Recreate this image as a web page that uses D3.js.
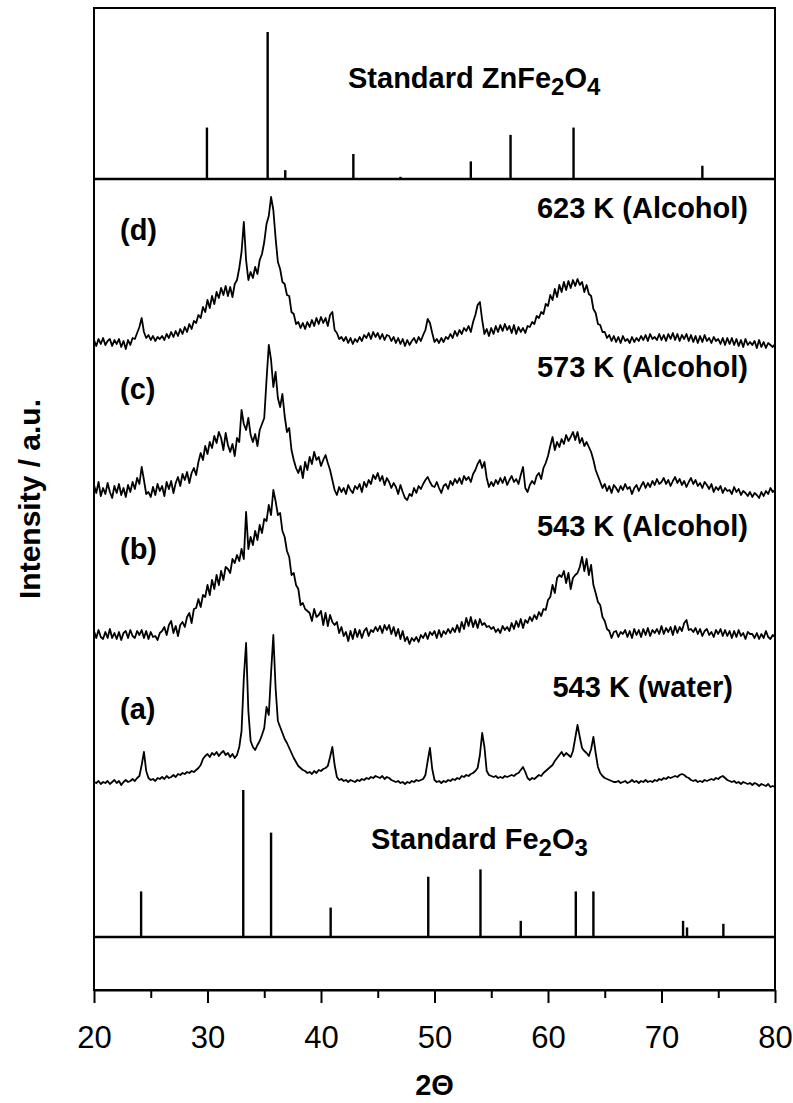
<!DOCTYPE html>
<html>
<head>
<meta charset="utf-8">
<script src="https://cdnjs.cloudflare.com/ajax/libs/d3/7.8.5/d3.min.js"></script>
<style>
    body { margin: 0; background: #fff; }
    svg text { font-family: "Liberation Sans", Arial, Helvetica, sans-serif; fill: #000; }
</style>
</head>
<body>
<svg id="chart" width="793" height="1103"></svg>
<script>
// measured XRD patterns, 2θ from 20 to 80 in steps of 0.2 (one row = 2 degrees)
var thetaStart = 20, thetaStep = 0.2;

// (a) 543 K (water)
var patternA = [
    1, 0, 2, -1, 1, 0, 2, -1, 1, 3,
    0, 2, -2, 1, 3, 1, 2, 4, 2, 5,
    7, 18, 31, 12, 5, 3, 4, 2, 5, 4,
    6, 4, 7, 5, 6, 8, 6, 9, 8, 10,
    9, 11, 10, 12, 11, 13, 15, 18, 24, 27,
    29, 26, 30, 28, 31, 27, 30, 32, 28, 30,
    26, 29, 25, 28, 36, 52, 105, 140, 72, 42,
    36, 33, 38, 42, 48, 55, 76, 68, 110, 148,
    95, 62, 56, 50, 44, 40, 35, 30, 25, 21,
    17, 15, 13, 12, 10, 11, 9, 12, 10, 13,
    12, 14, 15, 17, 26, 36, 18, 6, 3, 4,
    2, 3, 1, 3, 2, 1, 3, 2, 4, 3,
    5, 4, 6, 5, 7, 6, 5, 7, 4, 6,
    5, 3, 2, 1, 2, 0, 1, -1, 1, 0,
    2, 1, 3, 2, 3, 4, 8, 22, 35, 14,
    3, 1, 2, 0, 2, 1, 3, 2, 4, 3,
    5, 4, 7, 6, 8, 7, 9, 10, 12, 15,
    28, 50, 36, 12, 8, 7, 6, 7, 5, 6,
    5, 7, 6, 7, 8, 7, 9, 10, 13, 16,
    11, 5, 3, 5, 4, 6, 8, 7, 10, 12,
    14, 16, 18, 22, 25, 28, 31, 27, 30, 28,
    26, 32, 45, 58, 46, 35, 32, 30, 27, 34,
    46, 30, 16, 10, 7, 5, 4, 3, 2, 1,
    1, 2, 0, 1, 2, 0, 1, 3, 1, 2,
    0, 2, 1, 3, 1, 2, 1, 3, 2, 4,
    3, 5, 4, 6, 5, 6, 7, 6, 8, 9,
    8, 6, 5, 3, 2, 3, 1, 2, 1, 3,
    2, 3, 4, 3, 5, 4, 6, 7, 5, 3,
    2, 1, 2, 0, 1, -1, 1, 0, -1, 0,
    -2, 0, -1, -3, -1, -2, -3, -1, -4, -3,
    -4
];

// (b) 543 K (Alcohol)
var patternB = [
    4, -3, 5, -2, -4, 3, -3, 6, -3, 2,
    -4, 3, -5, 2, 4, -3, 5, -1, -3, 4,
    0, 5, -3, 4, -4, 3, -2, -1, -5, 2,
    4, 8, 0, 10, 14, 2, 9, -1, 10, 13,
    8, 18, 22, 12, 26, 27, 36, 28, 40, 38,
    50, 40, 55, 46, 60, 50, 64, 55, 68, 66,
    62, 76, 72, 80, 74, 86, 76, 123, 86, 98,
    90, 104, 95, 110, 102, 116, 114, 130, 120, 145,
    134, 120, 122, 104, 98, 84, 78, 60, 62, 50,
    46, 30, 32, 26, 24, 22, 14, 26, 18, 20,
    24, 10, 22, 9, 20, 13, 10, 13, 2, 8,
    -1, 3, -6, 4, -4, 6, -2, 5, -3, 4,
    7, -1, 5, 3, 8, 4, 9, 2, 10, 5,
    10, 1, 8, -1, 6, -4, 4, -6, -2, -9,
    -3, -6, -2, -7, 0, -3, 2, -4, 3, 0,
    4, -3, 5, -2, 4, 1, 6, 2, 7, 3,
    10, 3, 13, 6, 17, 9, 18, 8, 15, 7,
    16, 10, 12, 8, 9, 6, 8, 3, 6, 2,
    9, 5, 8, 4, 12, 6, 14, 8, 16, 7,
    15, 12, 18, 14, 20, 16, 23, 19, 26, 25,
    35, 38, 50, 42, 57, 60, 58, 64, 52, 62,
    46, 57, 60, 62, 68, 78, 64, 76, 60, 70,
    50, 42, 33, 30, 18, 14, 6, 4, -3, 3,
    4, -2, 3, 1, 5, -2, 4, -3, 6, 0,
    5, -2, 6, 0, 7, -1, 5, 2, 6, 1,
    9, 1, 7, 3, 8, 0, 9, 2, 8, 4,
    12, 15, 5, 6, 3, 7, 1, 6, -1, 4,
    6, 0, 3, -2, 5, 1, 6, -1, 5, -1,
    4, -3, 4, -2, 5, -1, 2, -4, 3, 1,
    1, -3, 2, -4, 1, -3, 4, -2, -4, 0,
    -2
];

// (c) 573 K (Alcohol)
var patternC = [
    5, -3, 8, -6, 2, -4, 7, -2, -8, 4,
    -3, 6, -5, 2, -7, 5, -2, 8, 1, 12,
    6, 23, 10, -4, -2, -7, 3, -5, 6, -1,
    4, -6, 8, 1, 9, -3, 7, 13, 4, 16,
    10, 18, 7, 17, 22, 15, 28, 37, 30, 44,
    36, 48, 42, 54, 47, 58, 52, 40, 57, 45,
    38, 46, 34, 52, 48, 80, 66, 60, 72, 55,
    48, 56, 44, 60, 66, 72, 110, 145, 130, 103,
    118, 92, 83, 96, 74, 58, 62, 40, 30, 22,
    17, 24, 12, 28, 20, 33, 26, 38, 30, 33,
    24, 30, 35, 27, 20, 10, 0, -5, 3, -2,
    2, -4, 5, 0, -3, 4, 1, 6, -2, 8,
    3, 10, 6, 15, 11, 17, 9, 14, 5, 12,
    8, 2, 7, 3, -4, 5, -2, -8, -10, -4,
    -6, 2, -3, 4, 1, 6, 10, 13, 8, 4,
    3, 8, 2, -3, 4, 6, 1, 9, 5, 11,
    7, 12, 6, 14, 10, 13, 8, 16, 20, 26,
    30, 22, 28, 12, 3, 8, 4, 10, 6, 12,
    7, 13, 5, 10, 14, 8, 11, 6, 15, 23,
    2, -2, 5, 9, 6, 14, 17, 11, 22, 27,
    34, 44, 53, 40, 48, 43, 51, 46, 55, 49,
    53, 58, 50, 58, 47, 52, 44, 48, 43, 38,
    30, 20, 14, 8, 2, 6, -1, 4, -3, 5,
    2, -2, 4, 0, 6, 1, 3, -4, 2, 5,
    -1, 4, 8, 2, 7, 3, 9, 5, 11, 6,
    8, 12, 6, 10, 4, 9, 13, 7, 11, 5,
    9, 3, 8, 12, 6, 10, 4, 7, 2, 8,
    5, 1, 6, -2, 3, 0, 4, -3, 2, -1,
    0, -4, 3, -2, 1, -5, -1, -3, -6, -2,
    -7, -3, -5, -8, -2, -6, -1, -4, 2, -2,
    0
];

// (d) 623 K (Alcohol)
var patternD = [
    2, -4, 3, -2, 4, -3, 1, 3, -4, 2,
    -2, 3, -5, 1, -7, 2, -3, 4, 3, 9,
    15, 24, 10, 4, 7, 2, 6, 1, 5, 3,
    6, 2, 8, 4, 10, 5, 11, 6, 13, 8,
    15, 10, 18, 13, 21, 19, 27, 24, 35, 30,
    42, 34, 46, 38, 50, 44, 54, 47, 56, 46,
    55, 45, 58, 62, 74, 90, 120, 82, 62, 70,
    64, 75, 68, 82, 88, 100, 118, 126, 145, 132,
    104, 80, 73, 60, 58, 47, 46, 30, 28, 18,
    20, 14, 19, 13, 20, 15, 22, 16, 24, 18,
    25, 19, 24, 16, 27, 30, 12, 9, 3, 5,
    1, 5, -1, 4, -2, 3, 0, 5, 1, 7,
    4, 9, 3, 10, 5, 9, 3, 8, 2, 7,
    6, 1, 5, -1, 4, -2, 3, -4, 2, -3,
    1, 4, -1, 5, 1, 7, 12, 23, 19, 9,
    0, 3, -1, 4, 0, 5, 3, 8, 4, 11,
    6, 12, 8, 14, 11, 16, 10, 20, 27, 37,
    40, 22, 8, 13, 6, 14, 8, 16, 10, 17,
    11, 18, 12, 16, 9, 17, 8, 15, 10, 14,
    9, 16, 15, 20, 18, 26, 24, 30, 28, 38,
    36, 47, 42, 53, 45, 57, 50, 60, 52, 61,
    54, 62, 56, 63, 57, 60, 50, 57, 48, 46,
    33, 29, 18, 17, 10, 10, 4, 7, 1, 6,
    0, 5, -1, 6, 1, 3, -1, 5, 0, 4,
    1, 6, 2, 7, 1, 8, 3, 5, 2, 8,
    2, 7, 1, 8, 3, 9, 2, 8, 1, 7,
    3, 8, 1, 7, 0, 6, -1, 6, 0, 7,
    1, 4, -1, 5, 1, 3, -2, 4, -3, 4,
    -2, 4, -3, 3, -4, 2, -5, 3, -3, 0,
    -3, 1, -6, 2, -5, 0, -6, -1, -3, -5,
    -2
];

var sampleNames = ["(a)", "(b)", "(c)", "(d)"];
var sampleConditions = ["543 K (water)", "543 K (Alcohol)", "573 K (Alcohol)", "623 K (Alcohol)"];

// reference patterns (relative intensity, %)
var znfeAngles = [29.95, 35.3, 36.85, 42.85, 47.0, 53.2, 56.7, 62.25, 73.6];
var znfeInt = [35, 100, 6, 17, 1.5, 12, 30, 35, 9];
var feAngles = [24.15, 33.15, 35.6, 40.85, 49.45, 54.05, 57.6, 62.45, 64.0, 71.9, 72.25, 75.45];
var feInt = [31, 100, 71, 20, 41, 46, 11, 31, 31, 11, 6.5, 9];

var xTicks = [20, 30, 40, 50, 60, 70, 80];
var xMinorTicks = [25, 35, 45, 55, 65, 75];

var plotLeft = 94, plotRight = 775, plotTop = 8, plotBottom = 990;

var svg = d3.select("#chart");

var x = d3.scaleLinear().domain([20, 80]).range([plotLeft, plotRight]);
// intensity in counts, one count per pixel, traces stacked by offset
var y = d3.scaleLinear().domain([0, plotBottom - plotTop]).range([plotBottom, plotTop]);
var stick = 1.47; // counts per % for the standards

var traceOffsets = [207, 355, 500, 648];
var znfeBase = 811, feBase = 53;

var patterns = [patternA, patternB, patternC, patternD];

//画图谱
var line = d3.line()
    .x(function (d, i) {
        return x(thetaStart + i * thetaStep)
    })
    .y(function (d) {
        return y(d.v)
    });

svg.append("g")
    .selectAll("path")
    .data(patterns)
    .enter()
    .append("path")
    .attr("fill", "none")
    .attr("stroke", "#000")
    .attr("stroke-width", 1.8)
    .attr("stroke-linejoin", "round")
    .attr("d", function (p, k) {
        return line(p.map(function (v) {
            return {v: traceOffsets[k] + v};
        }));
    });

//标准卡片竖线
function drawSticks(angles, ints, base) {
    svg.append("g")
        .selectAll("line")
        .data(angles)
        .enter()
        .append("line")
        .attr("x1", function (d) {
            return x(d)
        })
        .attr("x2", function (d) {
            return x(d)
        })
        .attr("y1", y(base))
        .attr("y2", function (d, i) {
            return y(base + ints[i] * stick)
        })
        .attr("stroke", "#000")
        .attr("stroke-width", 2.4);
}
drawSticks(znfeAngles, znfeInt, znfeBase);
drawSticks(feAngles, feInt, feBase);

// panel separators
[znfeBase, feBase].forEach(function (b) {
    svg.append("line")
        .attr("x1", plotLeft)
        .attr("x2", plotRight)
        .attr("y1", y(b))
        .attr("y2", y(b))
        .attr("stroke", "#000")
        .attr("stroke-width", 2.6);
});

// frame
svg.append("rect")
    .attr("x", plotLeft)
    .attr("y", plotTop)
    .attr("width", plotRight - plotLeft)
    .attr("height", plotBottom - plotTop)
    .attr("fill", "none")
    .attr("stroke", "#000")
    .attr("stroke-width", 2);

// x axis
var xAxis = svg.append("g")
    .attr("transform", "translate(0," + plotBottom + ")")
    .call(d3.axisBottom(x).tickValues(xTicks).tickSize(13).tickPadding(23).tickSizeOuter(0));
xAxis.select(".domain").attr("stroke-width", 2);
xAxis.selectAll(".tick line").attr("stroke-width", 2);
xAxis.selectAll(".tick text")
    .attr("font-size", 31)
    .attr("font-family", "Liberation Sans, Arial, sans-serif");

var xMinor = svg.append("g")
    .attr("transform", "translate(0," + plotBottom + ")")
    .call(d3.axisBottom(x).tickValues(xMinorTicks).tickSize(8).tickFormat(""));
xMinor.select(".domain").remove();
xMinor.selectAll(".tick line").attr("stroke-width", 2);

svg.append("text")
    .attr("x", (plotLeft + plotRight) / 2)
    .attr("y", 1095)
    .attr("text-anchor", "middle")
    .attr("font-size", 29)
    .attr("font-weight", "bold")
    .text("2Θ");

svg.append("text")
    .attr("transform", "translate(40," + ((plotTop + plotBottom) / 2) + ") rotate(-90)")
    .attr("text-anchor", "middle")
    .attr("font-size", 30)
    .attr("font-weight", "bold")
    .text("Intensity / a.u.");

//样品标注
var nameY = [719, 559, 399, 240];
var condY = [697, 536, 377, 218];
var condX = [733, 748, 748, 748];

svg.append("g")
    .selectAll("text")
    .data(sampleNames)
    .enter()
    .append("text")
    .attr("x", 120)
    .attr("y", function (d, i) {
        return nameY[i]
    })
    .attr("font-size", 29)
    .attr("font-weight", "bold")
    .text(function (d) {
        return d
    });

svg.append("g")
    .selectAll("text")
    .data(sampleConditions)
    .enter()
    .append("text")
    .attr("x", function (d, i) {
        return condX[i]
    })
    .attr("y", function (d, i) {
        return condY[i]
    })
    .attr("text-anchor", "end")
    .attr("font-size", 29)
    .attr("font-weight", "bold")
    .text(function (d) {
        return d
    });

// formula labels with subscripts
function formulaText(px, py, parts) {
    var t = svg.append("text")
        .attr("x", px)
        .attr("y", py)
        .attr("font-size", 29)
        .attr("font-weight", "bold");
    parts.forEach(function (p) {
        if (p.sub) {
            t.append("tspan").attr("font-size", 24).attr("dy", 7).text(p.s);
        } else {
            t.append("tspan").attr("dy", p.back ? -7 : 0).text(p.s);
        }
    });
}
formulaText(348, 88, [{s: "Standard ZnFe"}, {s: "2", sub: true}, {s: "O", back: true}, {s: "4", sub: true}]);
formulaText(371, 849, [{s: "Standard Fe"}, {s: "2", sub: true}, {s: "O", back: true}, {s: "3", sub: true}]);
</script>
</body>
</html>
